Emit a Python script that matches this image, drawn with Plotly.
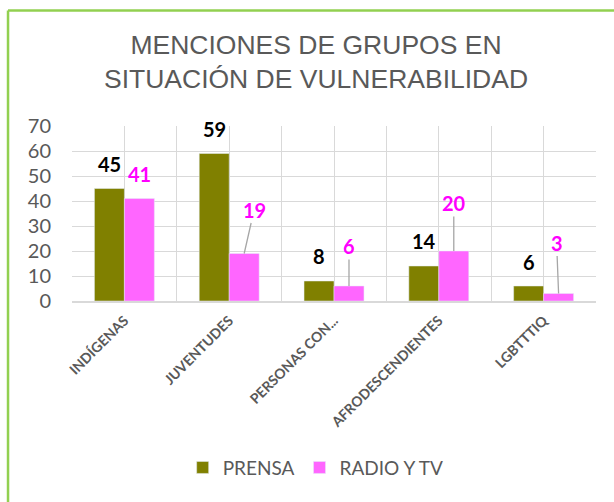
import plotly.graph_objects as go

categories = ["INDÍGENAS", "JUVENTUDES", "PERSONAS CON...", "AFRODESCENDIENTES", "LGBTTTIQ"]
prensa = [45, 59, 8, 14, 6]
radio_tv = [41, 19, 6, 20, 3]

# label offsets (pixels): (dx, dy) for each label; leader line when flagged
prensa_offsets = [(0, -25), (0, -25), (0, -25), (0, -25), (0, -24)]
radio_offsets = [(0, -25), (10, -44), (0, -40), (0, -48), (-2, -51)]
radio_leader = [False, True, True, True, True]

OLIVE = "#808000"
PINK = "#FF66FF"
GRAY = "#595959"
GRID = "#D9D9D9"

xs = list(range(len(categories)))
half = 0.143

fig = go.Figure()
fig.add_trace(go.Bar(x=xs, y=prensa, name="PRENSA", marker_color=OLIVE))
fig.add_trace(go.Bar(x=xs, y=radio_tv, name="RADIO Y TV", marker_color=PINK))

annotations = []
for i, v in enumerate(prensa):
    dx, dy = prensa_offsets[i]
    annotations.append(dict(x=i - half, y=v, xref="x", yref="y", text=str(v),
                            showarrow=False, xshift=dx, yshift=-dy,
                            font=dict(family="Lato", size=20, color="#000000", weight="bold")))
for i, v in enumerate(radio_tv):
    dx, dy = radio_offsets[i]
    if radio_leader[i]:
        annotations.append(dict(x=i + half, y=v, xref="x", yref="y", text=str(v),
                                showarrow=True, ax=dx, ay=dy, arrowhead=0,
                                arrowwidth=1.3, arrowcolor="#A6A6A6", standoff=0,
                                font=dict(family="Lato", size=20, color="#FF00FF", weight="bold")))
    else:
        annotations.append(dict(x=i + half, y=v, xref="x", yref="y", text=str(v),
                                showarrow=False, xshift=dx, yshift=-dy,
                                font=dict(family="Lato", size=20, color="#FF00FF", weight="bold")))

fig.update_layout(
    width=614, height=502,
    margin=dict(l=72, r=18, t=126, b=201),
    paper_bgcolor="white", plot_bgcolor="white",
    barmode="group", bargap=0.428, bargroupgap=0,
    title=dict(text="MENCIONES DE GRUPOS EN<br>SITUACIÓN DE VULNERABILIDAD",
               x=316 / 614, xanchor="center", y=1 - 54 / 502, yanchor="top",
               yref="container", xref="container",
               font=dict(family="Liberation Sans", size=26.5, color=GRAY)),
    showlegend=True,
    legend=dict(orientation="h", x=0.465, xanchor="center", y=-0.952, yanchor="middle",
                font=dict(family="Lato", size=19, color=GRAY), itemwidth=30,
                traceorder="normal"),
    annotations=annotations,
    shapes=[
        dict(type="line", xref="paper", yref="paper", x0=-0.1221, x1=-0.1221, y0=-1.5, y1=1.66,
             line=dict(color="#92D050", width=2.5)),
        dict(type="line", xref="paper", yref="paper", x0=-0.1221, x1=1.2, y0=1.66, y1=1.66,
             line=dict(color="#92D050", width=2.5)),
    ],
)

fig.update_xaxes(range=[-0.5, 4.5], tickvals=xs, ticktext=categories, tickangle=-45,
                 tickfont=dict(family="Lato", size=14, color=GRAY, weight="bold"),
                 showgrid=True, gridcolor=GRID, gridwidth=1,
                 minor=dict(tick0=-0.5, dtick=1, showgrid=True, gridcolor=GRID, gridwidth=1),
                 showline=True, linecolor=GRID, linewidth=2, zeroline=False, ticks="",
                 ticklabelstandoff=4)
fig.update_yaxes(range=[0, 70], dtick=10, showgrid=True, gridcolor=GRID, gridwidth=1,
                 tickfont=dict(family="Lato", size=20, color=GRAY),
                 zeroline=False, showline=False, ticklabelstandoff=20)

fig.write_html("out.html")
